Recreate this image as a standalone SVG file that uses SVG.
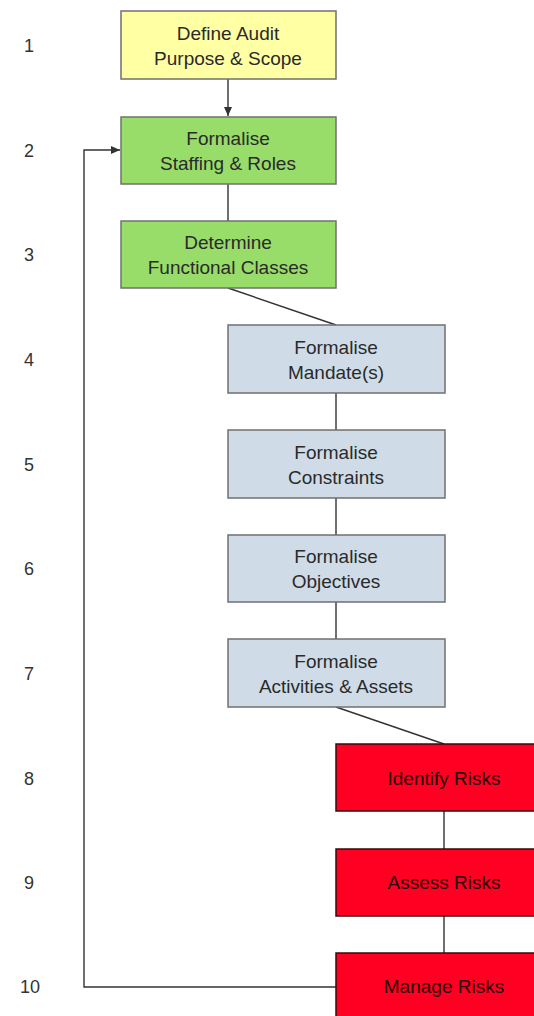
<svg xmlns="http://www.w3.org/2000/svg" width="534" height="1016" viewBox="0 0 534 1016">
<style>
.box{stroke:#707070;stroke-width:1.5}
.y{fill:#ffffa4}.g{fill:#98dc6a}.b{fill:#cfdce8}.r{fill:#ff0022;stroke:#3a0a0a}
text{font-family:"Liberation Sans",Arial,sans-serif;font-size:19px;text-anchor:middle;fill:#2a2a2a}
.num{fill:#333;font-size:18px}
.rt{fill:#2a0005}
.c{stroke:#333;stroke-width:1.4;fill:none}
</style>
<defs>
<marker id="ah" markerWidth="10" markerHeight="10" refX="9" refY="5" orient="auto" markerUnits="userSpaceOnUse">
<path d="M0,1 L9,5 L0,9 Z" fill="#333"/>
</marker>
</defs>
<g id="labels">
<text class="num" x="29" y="52">1</text>
<text class="num" x="29" y="157">2</text>
<text class="num" x="29" y="261">3</text>
<text class="num" x="29" y="366">4</text>
<text class="num" x="29" y="471">5</text>
<text class="num" x="29" y="575">6</text>
<text class="num" x="29" y="680">7</text>
<text class="num" x="29" y="785">8</text>
<text class="num" x="29" y="889">9</text>
<text class="num" x="30" y="993">10</text>
</g>
<g id="connectors">
<path class="c" d="M228,79 V116" marker-end="url(#ah)"/>
<path class="c" d="M228,184 V221"/>
<path class="c" d="M228,288 L336,325"/>
<path class="c" d="M336,393 V430"/>
<path class="c" d="M336,498 V535"/>
<path class="c" d="M336,602 V639"/>
<path class="c" d="M336,707 L444,744"/>
<path class="c" d="M444,811 V849"/>
<path class="c" d="M444,916 V953"/>
<path class="c" d="M336,987 H84 V150 H120" marker-end="url(#ah)"/>
</g>
<g id="n1"><rect class="box y" x="121" y="11" width="215" height="68"/><text x="228" y="40">Define Audit</text><text x="228" y="65">Purpose &amp; Scope</text></g>
<g id="n2"><rect class="box g" x="121" y="117" width="215" height="67"/><text x="228" y="145">Formalise</text><text x="228" y="170">Staffing &amp; Roles</text></g>
<g id="n3"><rect class="box g" x="121" y="221" width="215" height="67"/><text x="228" y="249">Determine</text><text x="228" y="274">Functional Classes</text></g>
<g id="n4"><rect class="box b" x="228" y="325" width="217" height="68"/><text x="336" y="354">Formalise</text><text x="336" y="379">Mandate(s)</text></g>
<g id="n5"><rect class="box b" x="228" y="430" width="217" height="68"/><text x="336" y="459">Formalise</text><text x="336" y="484">Constraints</text></g>
<g id="n6"><rect class="box b" x="228" y="535" width="217" height="67"/><text x="336" y="563">Formalise</text><text x="336" y="588">Objectives</text></g>
<g id="n7"><rect class="box b" x="228" y="639" width="217" height="68"/><text x="336" y="668">Formalise</text><text x="336" y="693">Activities &amp; Assets</text></g>
<g id="n8"><rect class="box r" x="336" y="744" width="217" height="67"/><text class="rt" x="444" y="785">Identify Risks</text></g>
<g id="n9"><rect class="box r" x="336" y="849" width="217" height="67"/><text class="rt" x="444" y="889">Assess Risks</text></g>
<g id="n10"><rect class="box r" x="336" y="953" width="217" height="68"/><text class="rt" x="444" y="993">Manage Risks</text></g>
</svg>
